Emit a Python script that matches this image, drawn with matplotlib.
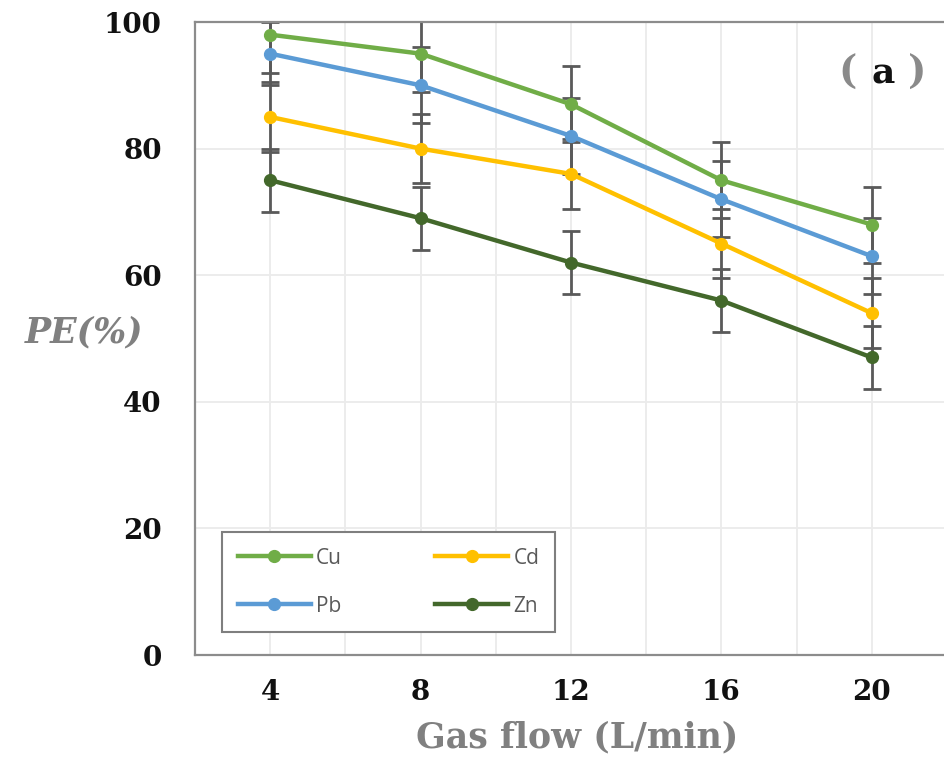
import matplotlib
matplotlib.use('Agg')
import matplotlib.pyplot as plt

# values
gas_flow = [4, 8, 12, 16, 20]
cu = [98, 95, 87, 75, 68]
pb = [95, 90, 82, 72, 63]
cd = [85, 80, 76, 65, 54]
zn = [75, 69, 62, 56, 47]
cu_err = [6, 6, 6, 6, 6]
pb_err = [5, 6, 6, 6, 6]
cd_err = [5.5, 5.5, 5.5, 5.5, 5.5]
zn_err = [5, 5, 5, 5, 5]

series = [
    ('Cu', cu, cu_err, '#70AD47'),
    ('Pb', pb, pb_err, '#5B9BD5'),
    ('Cd', cd, cd_err, '#FFC000'),
    ('Zn', zn, zn_err, '#43682B'),
]

W, H = 944, 758
fig = plt.figure(figsize=(W / 100, H / 100), dpi=100)
# plot area: left 195px, bottom 655px, top 22px; right edge runs just past the image
ax = fig.add_axes([195 / W, (H - 655) / H, 752 / W, 633 / H])

for name, vals, err, col in series:
    ax.errorbar(gas_flow, vals, yerr=err, fmt='none', ecolor='#5a5a5a',
                elinewidth=2, capsize=6.5, capthick=2, zorder=2)
for name, vals, err, col in series:
    ax.plot(gas_flow, vals, '-o', color=col, lw=3.2, ms=8.5, label=name, zorder=3)

ax.set_xlim(2, 22)
ax.set_ylim(0, 100)
ax.set_xticks([4, 8, 12, 16, 20])
ax.set_xticks([2, 6, 10, 14, 18], minor=True)
ax.set_yticks([0, 20, 40, 60, 80, 100])
ax.grid(True, which='both', color='#ebebeb', lw=1.3)
ax.set_axisbelow(True)
ax.tick_params(which='both', length=0)
ax.tick_params(axis='y', pad=24)
ax.tick_params(axis='x', pad=17)
for lab in ax.get_xticklabels() + ax.get_yticklabels():
    lab.set_fontfamily('DejaVu Serif')
    lab.set_fontweight('bold')
    lab.set_fontsize(20)
    lab.set_color('#111111')

for side in ['left', 'bottom', 'top']:
    ax.spines[side].set_color('#8c8c8c')
    ax.spines[side].set_linewidth(1.6)
ax.spines['right'].set_visible(False)

ax.set_xlabel('Gas flow (L/min)', fontfamily='DejaVu Serif', fontweight='bold',
              fontsize=25, color='#808080', va='center')
ax.xaxis.set_label_coords(0.508, -0.131)
ax.set_ylabel('PE(%)', fontfamily='DejaVu Serif', fontweight='bold', fontstyle='italic',
              fontsize=25, color='#808080', rotation=0, ha='center', va='center')
ax.yaxis.set_label_coords(-0.148, 0.509)

handles, labels = ax.get_legend_handles_labels()
leg = ax.legend(handles, labels, ncol=2, loc='lower left', bbox_to_anchor=(0.036, 0.036),
                frameon=True, fancybox=False, framealpha=1, edgecolor='#7f7f7f',
                prop={'family': 'Open Sans', 'size': 15}, labelcolor='#595959',
                handlelength=3.5, handletextpad=0.25, columnspacing=4.5,
                labelspacing=1.3, borderpad=0.75, borderaxespad=0)
leg.get_frame().set_linewidth(1.5)

# panel tag "( a )"
ty = (H - 73) / H
fig.text(848 / W, ty, '(', fontfamily='DejaVu Serif', fontweight='bold', fontsize=28,
         color='#8a8a8a', ha='center', va='center')
fig.text(883 / W, ty, 'a', fontfamily='DejaVu Serif', fontweight='bold', fontsize=26,
         color='#111111', ha='center', va='center')
fig.text(917 / W, ty, ')', fontfamily='DejaVu Serif', fontweight='bold', fontsize=28,
         color='#8a8a8a', ha='center', va='center')

fig.savefig('out.png', dpi=100)
